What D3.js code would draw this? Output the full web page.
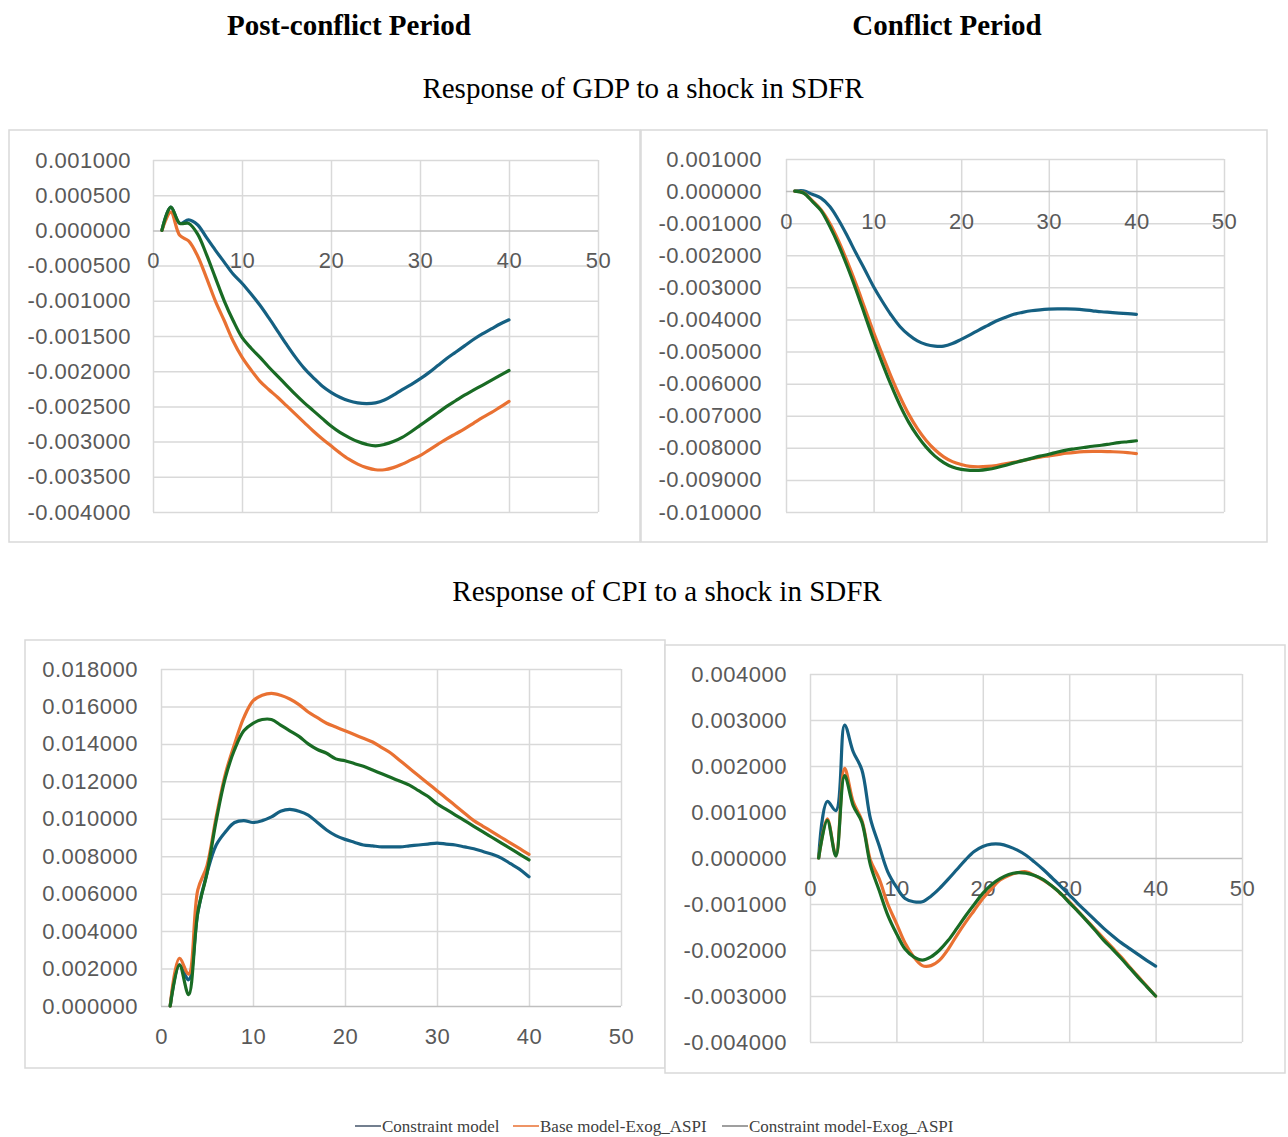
<html><head>
  <script src="https://d3js.org/d3.v7.min.js"></script>
  <style>
    body { margin: 0; background: white; }
    .tick text { font-family: 'Liberation Sans', Arial, sans-serif; font-size: 22px; letter-spacing: 0.5px; fill: #595959; }
    .domain { display: none; }
  </style>
</head>
<body>
<svg id="chart" width="1288" height="1137"></svg>
<script>
  // horizon (periods after the shock)
  const periods = [1,2,3,4,5,6,7,8,9,10,11,12,13,14,15,16,17,18,19,20,
                   21,22,23,24,25,26,27,28,29,30,31,32,33,34,35,36,37,38,39,40]

  const seriesNames = ["Constraint model", "Base model-Exog_ASPI", "Constraint model-Exog_ASPI"]
  const seriesColors = ["#156082", "#E97132", "#196B24"]
  const xTicks = [0, 10, 20, 30, 40, 50]

  // Response of GDP, post-conflict period
  const gdpPostConstraint = [0,0.00033,0.00010,0.00015,0.00008,-0.00010,-0.00028,-0.00045,-0.00062,-0.00075,
    -0.00090,-0.00106,-0.00124,-0.00143,-0.00162,-0.00180,-0.00196,-0.00209,-0.00221,-0.00230,
    -0.00237,-0.00242,-0.00245,-0.00246,-0.00245,-0.00241,-0.00234,-0.00226,-0.00219,-0.00211,
    -0.00202,-0.00192,-0.00182,-0.00173,-0.00164,-0.00155,-0.00147,-0.00140,-0.00133,-0.00127]
  const gdpPostBase = [0,0.00026,-0.00007,-0.00015,-0.00036,-0.00067,-0.00100,-0.00128,-0.00157,-0.00180,
    -0.00198,-0.00214,-0.00226,-0.00237,-0.00249,-0.00261,-0.00273,-0.00285,-0.00296,-0.00306,
    -0.00316,-0.00325,-0.00332,-0.00337,-0.00340,-0.00340,-0.00337,-0.00332,-0.00326,-0.00320,
    -0.00312,-0.00304,-0.00296,-0.00289,-0.00282,-0.00274,-0.00266,-0.00259,-0.00251,-0.00243]
  const gdpPostConstraintExog = [0,0.00033,0.00010,0.00010,-0.00005,-0.00034,-0.00067,-0.00100,-0.00128,-0.00152,
    -0.00167,-0.00180,-0.00194,-0.00207,-0.00220,-0.00233,-0.00245,-0.00256,-0.00267,-0.00278,
    -0.00287,-0.00294,-0.00300,-0.00304,-0.00306,-0.00304,-0.00300,-0.00294,-0.00286,-0.00277,
    -0.00268,-0.00259,-0.00250,-0.00242,-0.00234,-0.00227,-0.00220,-0.00213,-0.00206,-0.00199]
  const gdpPostTicks = [0.001,0.0005,0,-0.0005,-0.001,-0.0015,-0.002,-0.0025,-0.003,-0.0035,-0.004]

  // Response of GDP, conflict period
  const gdpConfConstraint = [0,0.00001,-0.00010,-0.00022,-0.00048,-0.00090,-0.00140,-0.00194,-0.00245,-0.00298,
    -0.00344,-0.00386,-0.00422,-0.00448,-0.00467,-0.00478,-0.00483,-0.00483,-0.00475,-0.00462,
    -0.00448,-0.00433,-0.00419,-0.00405,-0.00394,-0.00384,-0.00378,-0.00373,-0.00370,-0.00368,
    -0.00367,-0.00367,-0.00368,-0.00370,-0.00373,-0.00376,-0.00378,-0.00380,-0.00382,-0.00384]
  const gdpConfBase = [0,-0.00005,-0.00030,-0.00058,-0.00100,-0.00155,-0.00220,-0.00290,-0.00365,-0.00440,
    -0.00510,-0.00578,-0.00640,-0.00695,-0.00740,-0.00777,-0.00806,-0.00828,-0.00843,-0.00852,
    -0.00858,-0.00859,-0.00858,-0.00855,-0.00850,-0.00845,-0.00840,-0.00834,-0.00829,-0.00825,
    -0.00821,-0.00817,-0.00814,-0.00812,-0.00811,-0.00811,-0.00812,-0.00813,-0.00815,-0.00818]
  const gdpConfConstraintExog = [0,-0.00006,-0.00032,-0.00061,-0.00110,-0.00168,-0.00235,-0.00308,-0.00386,-0.00464,
    -0.00537,-0.00605,-0.00667,-0.00720,-0.00763,-0.00798,-0.00826,-0.00846,-0.00860,-0.00867,
    -0.00870,-0.00870,-0.00867,-0.00862,-0.00855,-0.00847,-0.00840,-0.00833,-0.00826,-0.00820,
    -0.00813,-0.00807,-0.00803,-0.00799,-0.00795,-0.00792,-0.00788,-0.00784,-0.00781,-0.00778]
  const gdpConfTicks = [0.001,0,-0.001,-0.002,-0.003,-0.004,-0.005,-0.006,-0.007,-0.008,-0.009,-0.010]

  // Response of CPI, post-conflict period
  const cpiPostConstraint = [0,0.0022,0.0014,0.0050,0.0071,0.0086,0.0093,0.0098,0.0099,0.0098,
    0.0099,0.0101,0.0104,0.0105,0.0104,0.0102,0.0098,0.0094,0.0091,0.0089,
    0.00875,0.0086,0.00855,0.0085,0.0085,0.0085,0.00855,0.0086,0.00865,0.0087,
    0.00865,0.0086,0.0085,0.0084,0.00825,0.0081,0.0079,0.0076,0.0073,0.0069]
  const cpiPostBase = [0,0.00255,0.0017,0.0062,0.0075,0.0101,0.0124,0.0140,0.0154,0.0163,
    0.0166,0.0167,0.0166,0.0164,0.0161,0.0157,0.0154,0.0151,0.0149,0.0147,
    0.0145,0.0143,0.0141,0.0138,0.0135,0.0131,0.0127,0.0123,0.0119,0.0115,
    0.0111,0.0107,0.0103,0.0099,0.0096,0.0093,0.0090,0.0087,0.0084,0.0081]
  const cpiPostConstraintExog = [0,0.0022,0.0006,0.0050,0.0071,0.0099,0.0122,0.0137,0.0147,0.0151,
    0.0153,0.0153,0.0150,0.0147,0.0144,0.0140,0.0137,0.0135,0.0132,0.0131,
    0.01295,0.0128,0.0126,0.0124,0.0122,0.0120,0.0118,0.0115,0.0112,0.0108,
    0.0105,0.0102,0.0099,0.0096,0.0093,0.0090,0.0087,0.0084,0.0081,0.0078]
  const cpiPostTicks = [0.018,0.016,0.014,0.012,0.010,0.008,0.006,0.004,0.002,0]

  // Response of CPI, conflict period
  const cpiConfConstraint = [0,0.00123,0.00103,0.00289,0.00231,0.00192,0.00085,0.00027,-0.00030,-0.00063,
    -0.00088,-0.00095,-0.00095,-0.00083,-0.00066,-0.00046,-0.00025,-0.00004,0.00014,0.00025,
    0.00030,0.00030,0.00025,0.00017,0.00006,-0.00009,-0.00025,-0.00043,-0.00061,-0.00080,
    -0.00099,-0.00117,-0.00135,-0.00153,-0.00169,-0.00184,-0.00197,-0.00210,-0.00223,-0.00235]
  const cpiConfBase = [0,0.00085,0.00006,0.00195,0.00122,0.00082,-0.00005,-0.00045,-0.00100,-0.00142,
    -0.00185,-0.00215,-0.00234,-0.00234,-0.00222,-0.00198,-0.00168,-0.00140,-0.00114,-0.00088,
    -0.00067,-0.00048,-0.00038,-0.00032,-0.00030,-0.00038,-0.00048,-0.00061,-0.00077,-0.00095,
    -0.00115,-0.00135,-0.00155,-0.00175,-0.00195,-0.00215,-0.00237,-0.00258,-0.00279,-0.00300]
  const cpiConfConstraintExog = [0,0.00082,0.00004,0.00179,0.00114,0.00078,-0.00016,-0.00070,-0.00124,-0.00164,
    -0.00198,-0.00215,-0.00222,-0.00215,-0.00200,-0.00179,-0.00153,-0.00126,-0.00101,-0.00077,
    -0.00058,-0.00045,-0.00036,-0.00032,-0.00033,-0.00038,-0.00047,-0.00061,-0.00077,-0.00097,
    -0.00116,-0.00136,-0.00157,-0.00179,-0.00198,-0.00218,-0.00239,-0.00260,-0.00280,-0.00300]
  const cpiConfTicks = [0.004,0.003,0.002,0.001,0,-0.001,-0.002,-0.003,-0.004]

  const svg = d3.select("#chart")
  const fmt = d => d.toFixed(6)

  // headings
  const serif = "'Liberation Serif', 'Times New Roman', serif"
  svg.append("text").attr("x", 349).attr("y", 35).attr("text-anchor", "middle")
     .style("font-family", serif).style("font-weight", "bold").style("font-size", "29px")
     .text("Post-conflict Period")
  svg.append("text").attr("x", 947).attr("y", 35).attr("text-anchor", "middle")
     .style("font-family", serif).style("font-weight", "bold").style("font-size", "29px")
     .text("Conflict Period")
  svg.append("text").attr("x", 643).attr("y", 98).attr("text-anchor", "middle")
     .style("font-family", serif).style("font-size", "29px")
     .text("Response of GDP to a shock in SDFR")
  svg.append("text").attr("x", 667).attr("y", 601).attr("text-anchor", "middle")
     .style("font-family", serif).style("font-size", "29px")
     .text("Response of CPI to a shock in SDFR")

  function drawPanel(p) {
    svg.append("rect").attr("x", p.box[0]).attr("y", p.box[1])
       .attr("width", p.box[2]).attr("height", p.box[3])
       .attr("fill", "white").attr("stroke", "#d9d9d9").attr("stroke-width", 1.5)

    const x = d3.scaleLinear().domain([0, 50]).range([p.plot[0], p.plot[1]])
    const y = d3.scaleLinear().domain(d3.extent(p.ticks)).range([p.plot[3], p.plot[2]])
    const w = p.plot[1] - p.plot[0], h = p.plot[3] - p.plot[2]

    // vertical gridlines
    svg.append("g").attr("transform", `translate(0,${p.plot[3]})`)
       .call(d3.axisBottom(x).tickValues(xTicks).tickSize(-h).tickFormat(""))
       .selectAll("line").attr("stroke", "#d9d9d9").attr("stroke-width", 1.5)

    // horizontal gridlines + labels
    const ya = svg.append("g").attr("transform", `translate(${p.plot[0]},0)`)
       .call(d3.axisLeft(y).tickValues(p.ticks).tickFormat(fmt).tickSize(-w).tickPadding(p.yPad))
    ya.selectAll("line").attr("stroke", d => d === 0 ? "#bfbfbf" : "#d9d9d9").attr("stroke-width", 1.5)

    // category axis labels sit under the zero line
    svg.append("g").attr("transform", `translate(0,${y(0)})`)
       .call(d3.axisBottom(x).tickValues(xTicks).tickSize(0).tickPadding(22))

    const line = d3.line().x((d, i) => x(periods[i])).y(d => y(d)).curve(d3.curveCatmullRom)
    p.series.forEach((s, k) => {
      svg.append("path").datum(s).attr("d", line)
         .attr("fill", "none").attr("stroke", seriesColors[k]).attr("stroke-width", 3.2)
         .attr("stroke-linejoin", "round").attr("stroke-linecap", "round")
    })
  }

  drawPanel({box: [9, 130, 631, 412], plot: [153, 598, 160, 512], ticks: gdpPostTicks, yPad: 22,
             series: [gdpPostConstraint, gdpPostBase, gdpPostConstraintExog]})
  drawPanel({box: [641, 130, 626, 412], plot: [786, 1224, 159, 512], ticks: gdpConfTicks, yPad: 24,
             series: [gdpConfConstraint, gdpConfBase, gdpConfConstraintExog]})
  drawPanel({box: [25, 640, 640, 428], plot: [161, 621, 669, 1006], ticks: cpiPostTicks, yPad: 23,
             series: [cpiPostConstraint, cpiPostBase, cpiPostConstraintExog]})
  drawPanel({box: [665, 645, 620, 428], plot: [810, 1242, 674, 1042], ticks: cpiConfTicks, yPad: 23,
             series: [cpiConfConstraint, cpiConfBase, cpiConfConstraintExog]})

  // legend
  const legendX = [355, 513, 722]
  const legendLine = ["#44546a", "#E97132", "#7f7f7f"]
  const legend = svg.append("g")
  seriesNames.forEach((name, k) => {
    legend.append("line").attr("x1", legendX[k]).attr("x2", legendX[k] + 26)
          .attr("y1", 1126).attr("y2", 1126).attr("stroke", legendLine[k]).attr("stroke-width", 1.5)
    legend.append("text").attr("x", legendX[k] + 27).attr("y", 1132)
          .style("font-family", serif).style("font-size", "17px").style("fill", "#404040")
          .text(name)
  })
</script>
</body>
</html>
